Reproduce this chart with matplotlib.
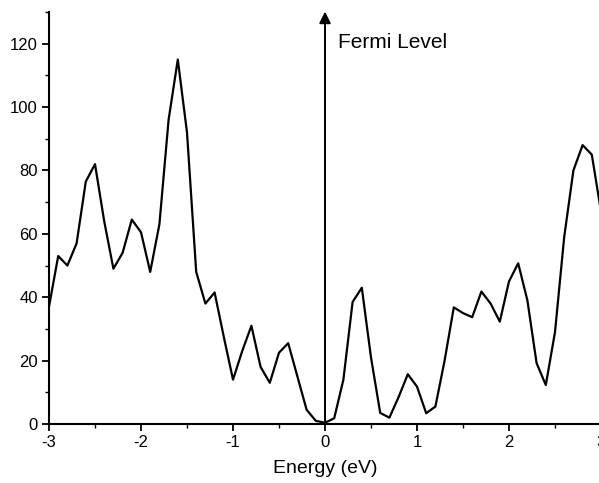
import numpy as np
import matplotlib
matplotlib.use("Agg")
import matplotlib.pyplot as plt
from matplotlib.ticker import MultipleLocator

plt.rcParams['font.family'] = ['Liberation Sans', 'DejaVu Sans']
plt.rcParams['axes.unicode_minus'] = False

# density of states vs energy (0.1 eV steps)
energy = np.round(np.arange(-3.0, 3.01, 0.1), 1)
dos = [37, 53, 50, 57, 76.5, 82, 64, 49, 54, 64.5, 60.5, 48, 63, 96, 115, 92, 48, 38, 41.5, 27.5,
       14, 23, 31, 18, 13, 22.5, 25.5, 15, 4.5, 1, 0.4, 1.8, 14, 38.5, 43, 21, 3.5, 2, 8.5, 15.7,
       11.8, 3.4, 5.5, 20, 36.8, 35, 33.7, 41.8, 38, 32.3, 45, 50.7, 39, 19.2, 12.3, 29, 59, 80,
       88, 85, 67]

fig = plt.figure(figsize=(5.99, 4.83), dpi=100)
ax = fig.add_axes([49/599, 59/483, 552/599, 412/483])

ax.plot(energy, dos, color='black', lw=1.6)

ax.set_xlim(-3, 3)
ax.set_ylim(0, 130)
ax.xaxis.set_major_locator(MultipleLocator(1))
ax.xaxis.set_minor_locator(MultipleLocator(0.5))
ax.yaxis.set_major_locator(MultipleLocator(20))
ax.yaxis.set_minor_locator(MultipleLocator(10))
ax.tick_params(which='major', length=5, width=1.3, labelsize=12, direction='out', pad=3)
ax.tick_params(which='minor', length=3, width=1.0, direction='out')
ax.set_yticks([0, 20, 40, 60, 80, 100, 120])

for s in ['top', 'right']:
    ax.spines[s].set_visible(False)
for s in ['left', 'bottom']:
    ax.spines[s].set_linewidth(1.5)

ax.set_xlabel('Energy (eV)', fontsize=14, labelpad=7)

# Fermi level arrow
ax.annotate('', xy=(0, 131), xytext=(0, 0), annotation_clip=False,
            arrowprops=dict(arrowstyle='-|>', color='black', lw=1.4, mutation_scale=17))
ax.text(0.14, 120.5, 'Fermi Level', fontsize=15, va='center', ha='left')

plt.savefig('out.png', dpi=100)
